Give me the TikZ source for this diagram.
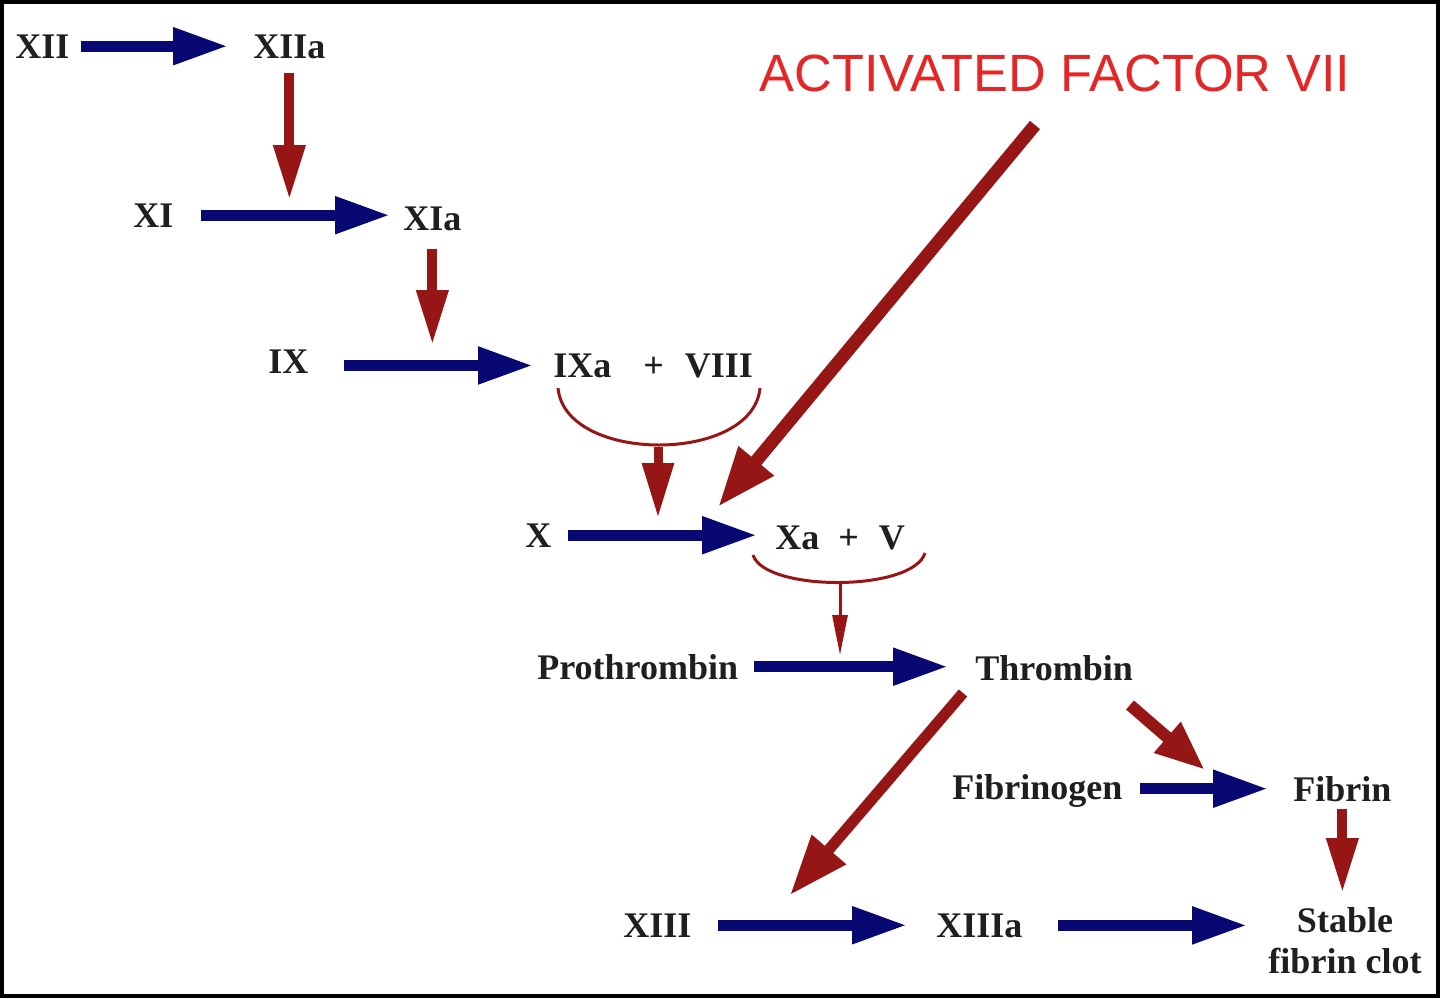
\documentclass[tikz,border=0pt]{standalone}
\usepackage{fontspec}
\setmainfont{Liberation Serif}
\newfontfamily\titlefont{Liberation Sans}
\usetikzlibrary{arrows.meta, calc, positioning}
\definecolor{flowblue}{RGB}{8,8,115}
\definecolor{actred}{RGB}{150,22,22}
\definecolor{titlered}{RGB}{228,38,38}
\tikzset{
factor/.style={font=\bfseries\fontsize{20.5}{22}\selectfont, inner sep=0pt, text=black!88}, % every factor label
flow/.style={draw=flowblue, line width=0.22cm, -{Triangle[length=1.1cm,width=0.7cm]}}, % conversion arrows
act/.style={draw=actred, line width=0.2cm, -{Triangle[length=1.1cm,width=0.6cm]}}, % activation arrows
bigact/.style={act, line width=0.26cm, -{Triangle[length=1.2cm,width=0.85cm]}},
thinact/.style={draw=actred, line width=0.06cm, -{Triangle[length=0.8cm,width=0.3cm]}},
bracket/.style={draw=actred, line width=0.06cm},
}

\begin{document}
\begin{tikzpicture}[x=0.02cm, y=-0.02cm]%one unit is one pixel of the reference
  \useasboundingbox (0,0) rectangle (1440,998);
  \draw[line width=0.08cm] (2,2) rectangle (1438,996);

  \node[factor, anchor=base west] (xii) at (15,58) {XII};
  \node[factor, anchor=base west] (xiia) at (253,58) {XIIa};
  \node[factor, anchor=base west] (xi) at (133,227) {XI};
  \node[factor, anchor=base west] (xia) at (403,230) {XIa};
  \node[factor, anchor=base west] (ix) at (268,373) {IX};
  \node[factor, anchor=base west] (ixa) at (553,377) {IXa\hspace{0.64cm}+\hspace{0.42cm}VIII};
  \node[factor, anchor=base west] (x) at (525,547) {X};
  \node[factor, anchor=base west] (xa) at (775,549) {Xa\hspace{0.38cm}+\hspace{0.4cm}V};
  \node[factor, anchor=base west] (pro) at (537,679) {Prothrombin};
  \node[factor, anchor=base west] (thr) at (975,680) {Thrombin};
  \node[factor, anchor=base west] (fbg) at (952,799) {Fibrinogen};
  \node[factor, anchor=base west] (fib) at (1293,801) {Fibrin};
  \node[factor, anchor=base west] (xiii) at (623,937) {XIII};
  \node[factor, anchor=base west] (xiiia) at (936,937) {XIIIa};
  \node[factor, anchor=north, align=center] (clot) at (1345,907) {Stable\\[0.04cm]fibrin clot};
  \node[text=titlered, inner sep=0pt, font=\titlefont\fontsize{29.8}{34}\selectfont] (f7) at (1055,73) {ACTIVATED FACTOR VII};

  % free ends of the activation arrows
  \coordinate (c1) at (290,200);
  \coordinate (c2) at (434,345);
  \coordinate (b1) at (658,447);
  \coordinate (c3) at (658,518);
  \coordinate (b2) at (840,583);
  \coordinate (c4) at (840,655);
  \coordinate (f7tail) at (1035,125);
  \coordinate (f7tip) at (718,507);
  \coordinate (thrA) at (963,693);
  \coordinate (c5) at (790,895);
  \coordinate (thrB) at (1130,705);
  \coordinate (c6) at (1205,770);

  \draw[flow, shorten <=0.22cm, shorten >=0.5cm] (xii.east) -- (xii.east -| xiia.west);
  \draw[flow, shorten <=0.54cm, shorten >=0.26cm] (xi.east) -- (xi.east -| xia.west);
  \draw[flow, shorten <=0.7cm, shorten >=0.4cm] (ixa.west -| ix.east) -- (ixa.west);
  \draw[flow, shorten <=0.32cm, shorten >=0.36cm] (x.east) -- (x.east -| xa.west);
  \draw[flow, shorten <=0.32cm, shorten >=0.54cm] (pro.east) -- (pro.east -| thr.west);
  \draw[flow, shorten <=0.34cm, shorten >=0.5cm] (fib.west -| fbg.east) -- (fib.west);
  \draw[flow, shorten <=0.52cm, shorten >=0.58cm] (xiii.east) -- (xiii.east -| xiiia.west);
  \draw[flow, shorten <=0.7cm, shorten >=0.42cm] (xiiia.east) -- (xiiia.east -| clot.west);

  \draw[act, shorten <=0.28cm] (xiia.south) -- (xiia.south |- c1);
  \draw[act, shorten <=0.36cm] (xia.south) -- (xia.south |- c2);
  \draw[act, shorten <=0.14cm, shorten >=0.28cm] (fib.south) -- (fib.south |- clot.north);

  \draw[bracket] (558,388) .. controls (565,464) and (753,464) .. (760,388);
  \draw[act, line width=0.18cm] (b1) -- (c3);
  \draw[bracket] (753,555) .. controls (765,592) and (913,592) .. (925,553);
  \draw[thinact] (b2) -- (c4);

  \draw[bigact] (f7tail) -- (f7tip);
  \draw[bigact, line width=0.22cm] (thrA) -- (c5);
  \draw[bigact, line width=0.24cm, -{Triangle[length=1cm,width=0.75cm]}] (thrB) -- (c6);
\end{tikzpicture}
\end{document}
